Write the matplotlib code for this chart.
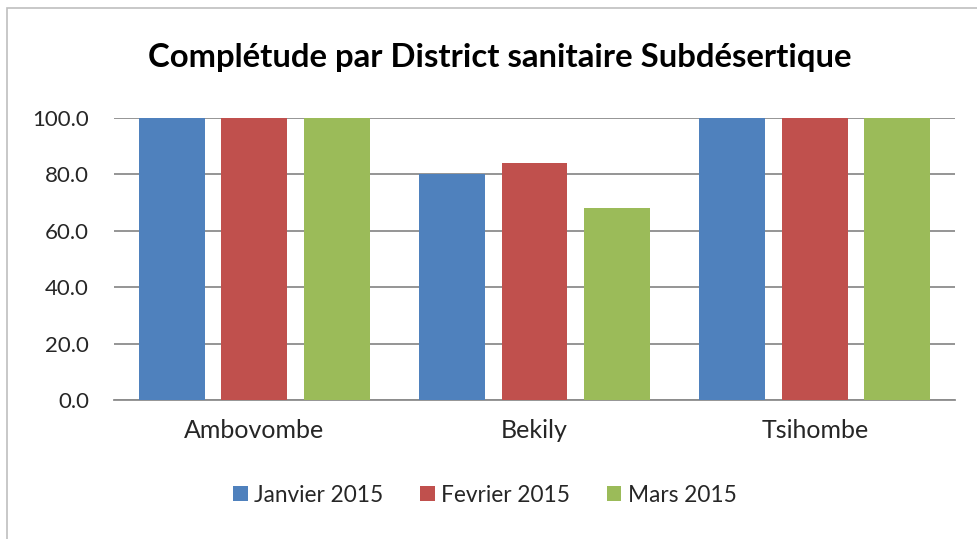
import numpy as np
import matplotlib.pyplot as plt
from matplotlib.patches import Rectangle

districts = ["Ambovombe", "Bekily", "Tsihombe"]
months = ["Janvier 2015", "Fevrier 2015", "Mars 2015"]
janvier = [100.0, 80.0, 100.0]
fevrier = [100.0, 84.0, 100.0]
mars = [100.0, 68.0, 100.0]
colors = ["#4F81BD", "#C0504D", "#9BBB59"]

plt.rcParams['font.family'] = ['Lato', 'DejaVu Sans']
txt = "#262626"

fig = plt.figure(figsize=(9.77, 5.39), dpi=100)
# chart border (cut off on right and bottom as in the screenshot)
fig.patches.append(Rectangle((7 / 977, -0.05), 1.2, 1 - 8 / 539 + 0.05,
                             transform=fig.transFigure, fill=False,
                             edgecolor="#BFBFBF", linewidth=1.2))

ax = fig.add_axes([114 / 977, 1 - 400 / 539, (955 - 114) / 977, (400 - 118) / 539])
x = np.arange(len(districts))
w = 0.235
off = 0.294
for i, (vals, lab) in enumerate(zip([janvier, fevrier, mars], months)):
    ax.bar(x + (i - 1) * off, vals, w, color=colors[i], label=lab, zorder=3)

ax.set_xlim(-0.5, 2.5)
ax.set_ylim(0, 100)
ax.set_yticks(np.arange(0, 101, 20))
ax.yaxis.set_major_formatter(plt.FuncFormatter(lambda v, p: f"{v:.1f}"))
ax.grid(axis='y', color="#8C8C8C", linewidth=1.3, zorder=0)
ax.set_xticks(x)
ax.set_xticklabels(districts)
ax.tick_params(axis='both', length=0, colors=txt)
ax.tick_params(axis='y', labelsize=16, pad=18)
ax.tick_params(axis='x', labelsize=18, pad=14)
for s in ['top', 'right', 'left']:
    ax.spines[s].set_visible(False)
ax.spines['bottom'].set_color("#8C8C8C")
ax.spines['bottom'].set_linewidth(1.3)

fig.text(500 / 977, 1 - 58 / 539, "Complétude par District sanitaire Subdésertique",
         ha='center', va='center', fontsize=23.7, fontweight='bold', color="#000000")

leg = fig.legend(loc='center', bbox_to_anchor=(485 / 977, 1 - 495 / 539), ncol=3, frameon=False,
                 fontsize=16.3, handlelength=0.65, handleheight=0.65, handletextpad=0.3,
                 columnspacing=1.6)
for t in leg.get_texts():
    t.set_color(txt)

fig.savefig("out.png", dpi=100)
